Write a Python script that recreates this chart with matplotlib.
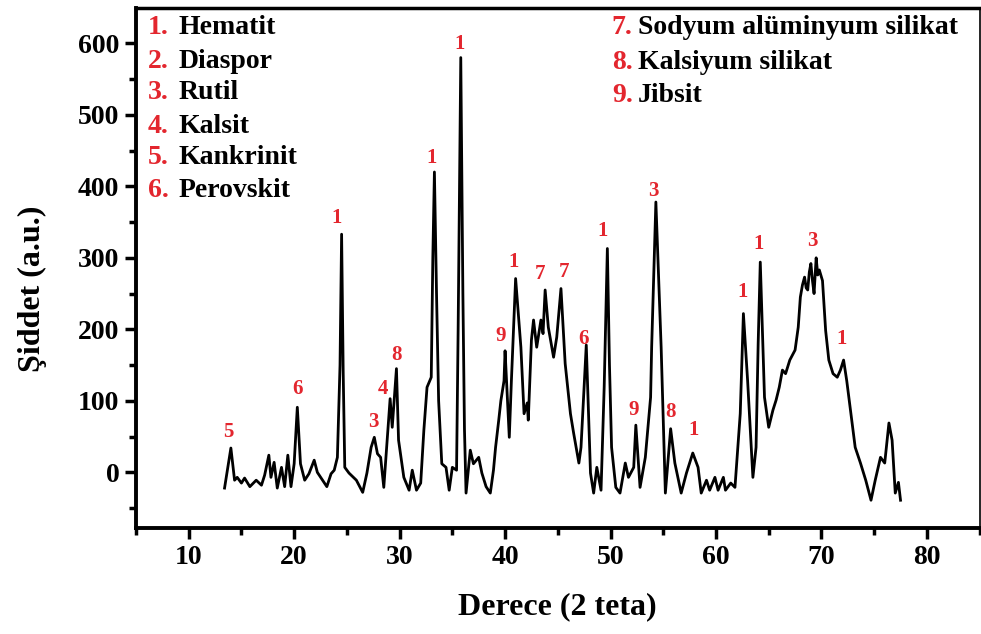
import numpy as np
import matplotlib.pyplot as plt
from matplotlib.ticker import MultipleLocator

plt.rcParams['font.family'] = ['Liberation Serif', 'DejaVu Serif']
plt.rcParams['font.weight'] = 'bold'
plt.rcParams['axes.labelweight'] = 'bold'

# XRD deseni: 2-teta (derece) ve şiddet (a.u.)
two_theta = [
    13.4, 14.0, 14.35, 14.6, 15.0, 15.3, 15.8, 16.4, 16.9, 17.2, 17.6, 17.8,
    18.1, 18.4, 18.8, 19.1, 19.4, 19.7, 20.0, 20.3, 20.6, 21.0, 21.4, 21.9,
    22.2, 22.7, 23.1, 23.5, 23.8, 24.1, 24.35, 24.5, 24.65, 24.8, 25.2, 25.9,
    26.5, 26.9, 27.3, 27.6, 27.9, 28.2, 28.5, 28.8, 29.1, 29.3, 29.7, 29.9,
    30.4, 30.9, 31.2, 31.6, 32.0, 32.3, 32.6, 33.0, 33.15, 33.3, 33.5, 33.7,
    34.0, 34.4, 34.7, 35.0, 35.4, 35.55, 35.8, 36.0, 36.15, 36.3, 36.7, 37.0,
    37.5, 37.8, 38.2, 38.6, 38.9, 39.1, 39.4, 39.6, 39.9, 40.0, 40.4, 40.6,
    41.0, 41.5, 41.8, 42.1, 42.2, 42.5, 42.7, 43.0, 43.4, 43.6, 43.8, 44.1,
    44.6, 44.9, 45.3, 45.7, 46.2, 46.5, 47.0, 47.2, 47.7, 48.1, 48.4, 48.7,
    49.1, 49.4, 49.7, 49.9, 50.1, 50.5, 50.9, 51.4, 51.7, 52.2, 52.4, 52.8,
    53.3, 53.8, 53.9, 54.3, 54.8, 55.2, 55.7, 56.1, 56.7, 57.2, 57.8, 58.3,
    58.6, 59.1, 59.4, 59.9, 60.2, 60.7, 60.9, 61.4, 61.8, 62.3, 62.6, 63.0,
    63.5, 63.8, 64.0, 64.2, 64.4, 64.6, 65.0, 65.4, 65.7, 66.0, 66.3, 66.6,
    67.0, 67.5, 67.8, 68.0, 68.2, 68.4, 68.55, 68.7, 68.85, 69.0, 69.15, 69.3,
    69.5, 69.65, 69.8, 70.1, 70.4, 70.7, 71.1, 71.5, 71.8, 72.1, 72.4, 72.8,
    73.2, 73.7, 74.2, 74.7, 75.1, 75.6, 76.0, 76.4, 76.7, 77.0, 77.3, 77.5,
]
intensity = [
    -22, 34, -11, -7, -15, -8, -20, -11, -18, -4, 24, -7,
    14, -22, 7, -20, 24, -20, 12, 91, 12, -11, -2, 17,
    0, -11, -20, -2, 3, 21, 150, 333, 140, 7, -1, -11,
    -28, -1, 35, 49, 26, 21, -21, 40, 103, 63, 145, 45,
    -7, -25, 3, -25, -15, 59, 119, 133, 300, 420, 250, 100,
    12, 7, -25, 7, 3, 200, 580, 250, 60, -29, 31, 12,
    21, -1, -20, -29, 3, 35, 73, 100, 128, 170, 49, 128,
    271, 175, 82, 97, 73, 185, 213, 175, 213, 194, 255, 203,
    161, 189, 257, 152, 82, 55, 13, 35, 178, -1, -29, 7,
    -25, 120, 313, 150, 35, -21, -29, 13, -7, 7, 66, -21,
    21, 105, 175, 378, 175, -29, 61, 13, -29, -1, 27, 7,
    -29, -11, -25, -7, -25, -7, -25, -15, -21, 82, 222, 128,
    -7, 35, 180, 294, 200, 105, 63, 87, 101, 119, 143, 138,
    157, 171, 203, 245, 262, 273, 258, 255, 280, 292, 268, 250,
    300, 276, 283, 268, 198, 157, 138, 133, 143, 157, 128, 82,
    35, 13, -11, -39, -11, 21, 13, 69, 45, -29, -14, -39,
]

# faz etiketleri: (2-teta, şiddet, faz numarası)
peak_x = [13.8, 20.3, 24.0, 27.5, 28.4, 29.7, 33.0, 35.7, 39.6, 40.8, 43.3,
          45.6, 47.4, 49.2, 52.2, 54.1, 55.7, 57.9, 62.5, 64.0, 69.1, 71.9]
peak_y = [56, 116, 355, 71, 117, 164, 440, 599, 190, 294, 278,
          280, 187, 337, 87, 394, 85, 59, 252, 319, 324, 186]
peak_ids = ['5', '6', '1', '3', '4', '8', '1', '1', '9', '1', '7',
            '7', '6', '1', '9', '3', '8', '1', '1', '1', '3', '1']

phases_left = ['Hematit', 'Diaspor', 'Rutil', 'Kalsit', 'Kankrinit', 'Perovskit']
phases_right = ['Sodyum alüminyum silikat', 'Kalsiyum silikat', 'Jibsit']

red = '#e3262e'

fig = plt.figure(figsize=(9.81, 6.34), dpi=100)
ax = fig.add_axes([0.1386, 0.167, 0.860, 0.820])

ax.plot(two_theta, intensity, color='black', lw=2.0)

for x, y, s in zip(peak_x, peak_y, peak_ids):
    ax.text(x, y, s, color=red, fontsize=15, ha='center', va='center')

# faz listesi
rows_left = [0.962, 0.898, 0.837, 0.773, 0.712, 0.650]
for i, (name, yy) in enumerate(zip(phases_left, rows_left)):
    ax.text(0.014, yy, f'{i + 1}.', color=red, fontsize=20,
            transform=ax.transAxes, va='center')
    ax.text(0.050, yy, name, color='black', fontsize=20,
            transform=ax.transAxes, va='center')
rows_right = [0.962, 0.896, 0.833]
for i, (name, yy) in enumerate(zip(phases_right, rows_right)):
    ax.text(0.564, yy, f'{i + 7}.', color=red, fontsize=20,
            transform=ax.transAxes, va='center')
    ax.text(0.595, yy, name, color='black', fontsize=20,
            transform=ax.transAxes, va='center')

ax.set_xlim(5, 85)
ax.set_ylim(-78, 649)
ax.xaxis.set_minor_locator(MultipleLocator(5))
ax.yaxis.set_major_locator(MultipleLocator(100))
ax.yaxis.set_minor_locator(MultipleLocator(50))
ax.set_xticks(np.arange(10, 81, 10))
ax.tick_params(which='major', direction='out', length=8, width=2.5,
               labelsize=20, pad=4)
ax.tick_params(which='minor', direction='out', length=5, width=2.5)
ax.tick_params(top=False, right=False, which='both')

ax.spines['left'].set_linewidth(2.8)
ax.spines['bottom'].set_linewidth(2.8)
ax.spines['top'].set_linewidth(2.5)
ax.spines['right'].set_linewidth(1.2)

ax.set_xlabel('Derece (2 teta)', fontsize=23, labelpad=16)
ax.set_ylabel('Şiddet (a.u.)', fontsize=23)
ax.yaxis.set_label_coords(-0.106, 0.46)

fig.savefig('out.png', dpi=100)
